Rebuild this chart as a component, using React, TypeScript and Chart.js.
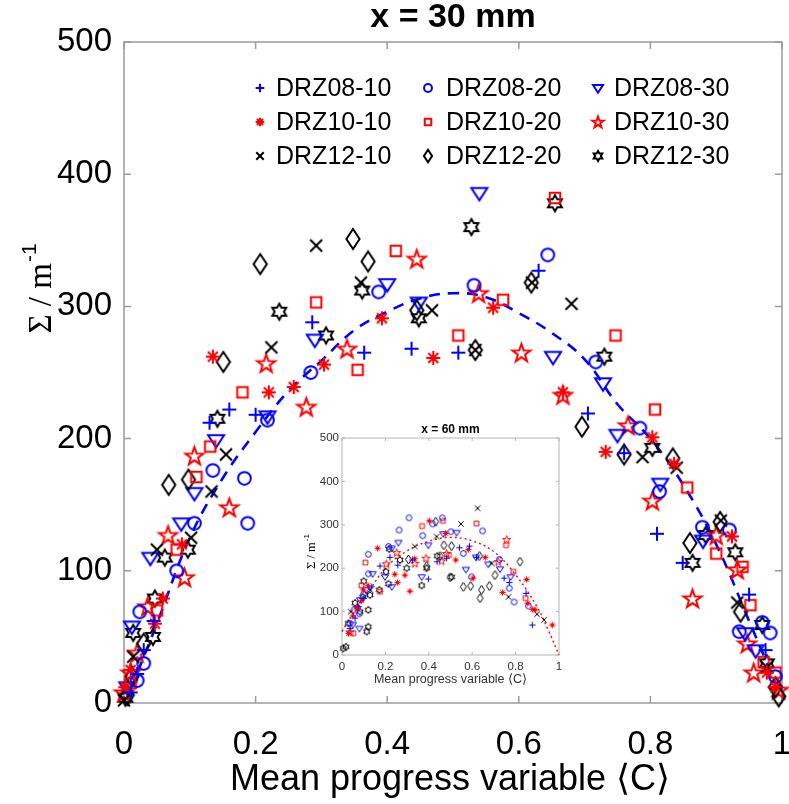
import React, { useEffect, useRef } from 'react';
import { Chart, registerables } from 'chart.js';
Chart.register(...registerables);

const BLUE = '#0000ff';
const RED = '#ff0000';
const BLACK = '#000000';

// ---------- main chart (x = 30 mm) ----------
const mainXTicks = [0, 0.2, 0.4, 0.6, 0.8, 1];
const mainYTicks = [0, 100, 200, 300, 400, 500];

const m0810C = [0.01, 0.02, 0.03, 0.045, 0.13, 0.16, 0.2, 0.286, 0.365, 0.437, 0.508, 0.63, 0.705, 0.76, 0.81, 0.849, 0.95, 0.975];
const m0810S = [8, 22, 40, 62, 212, 222, 218, 288, 265, 268, 265, 327, 219, 189, 128, 106, 82, 40];
const m0820C = [0.02, 0.024, 0.03, 0.08, 0.107, 0.135, 0.183, 0.188, 0.218, 0.284, 0.387, 0.532, 0.644, 0.717, 0.784, 0.814, 0.879, 0.92, 0.935, 0.97, 0.982, 0.99];
const m0820S = [17, 69, 30, 100, 136, 176, 170, 136, 214, 250, 311, 316, 339, 258, 208, 160, 133, 131, 54, 61, 53, 20];
const m0830C = [0.005, 0.012, 0.04, 0.087, 0.107, 0.14, 0.218, 0.29, 0.4, 0.448, 0.54, 0.652, 0.728, 0.75, 0.815, 0.88, 0.944, 0.96];
const m0830S = [12, 58, 110, 136, 159, 199, 217, 275, 317, 303, 386, 262, 242, 203, 166, 123, 53, 40];
const m1010C = [0.002, 0.01, 0.047, 0.059, 0.088, 0.135, 0.22, 0.258, 0.304, 0.392, 0.47, 0.561, 0.667, 0.732, 0.803, 0.836, 0.924, 0.977, 0.99];
const m1010S = [12, 25, 60, 79, 120, 262, 235, 239, 256, 291, 261, 299, 235, 190, 201, 181, 126, 23, 12];
const m1020C = [0.01, 0.05, 0.08, 0.11, 0.131, 0.18, 0.292, 0.355, 0.413, 0.508, 0.576, 0.655, 0.747, 0.807, 0.856, 0.9, 0.94, 0.952, 0.972, 0.99];
const m1020S = [15, 70, 116, 171, 194, 235, 303, 252, 342, 278, 305, 382, 278, 222, 163, 113, 103, 74, 31, 23];
const m1030C = [0.0, 0.01, 0.02, 0.036, 0.067, 0.092, 0.107, 0.16, 0.216, 0.277, 0.339, 0.445, 0.539, 0.604, 0.667, 0.766, 0.803, 0.864, 0.9, 0.932, 0.947, 0.957, 0.995];
const m1030S = [8, 23, 38, 73, 127, 95, 187, 148, 257, 224, 268, 336, 310, 265, 233, 210, 153, 79, 127, 101, 45, 23, 10];
const m1210C = [0.0, 0.014, 0.05, 0.102, 0.133, 0.155, 0.224, 0.292, 0.36, 0.468, 0.534, 0.62, 0.68, 0.788, 0.84, 0.907, 0.932, 0.977];
const m1210S = [2, 35, 116, 125, 160, 188, 269, 346, 318, 297, 267, 318, 302, 186, 178, 138, 76, 27];
const m1220C = [0.005, 0.012, 0.03, 0.068, 0.098, 0.151, 0.207, 0.348, 0.371, 0.445, 0.534, 0.619, 0.696, 0.76, 0.834, 0.86, 0.906, 0.937, 0.99, 0.995];
const m1220S = [6, 20, 45, 165, 169, 258, 332, 351, 334, 297, 267, 318, 209, 188, 185, 121, 137, 69, 12, 5];
const m1230C = [0.002, 0.014, 0.044, 0.047, 0.062, 0.097, 0.142, 0.236, 0.307, 0.362, 0.448, 0.528, 0.655, 0.73, 0.803, 0.864, 0.884, 0.929, 0.97, 0.977];
const m1230S = [4, 53, 50, 79, 110, 116, 215, 296, 278, 312, 291, 360, 378, 262, 193, 106, 127, 114, 59, 30];

const mainFitC = [0.01, 0.05, 0.1, 0.15, 0.2, 0.25, 0.3, 0.35, 0.4, 0.45, 0.5, 0.55, 0.6, 0.65, 0.7, 0.75, 0.8, 0.85, 0.9, 0.95, 0.99];
const mainFitS = [10, 60, 125, 170, 205, 236, 259, 282, 296, 306, 310, 307, 295, 280, 260, 226, 200, 165, 120, 62, 15];

// ---------- inset chart (x = 60 mm) ----------
const insetXTicks = [0, 0.2, 0.4, 0.6, 0.8, 1];
const insetYTicks = [0, 100, 200, 300, 400, 500];

const i0810C = [0.037, 0.075, 0.137, 0.175, 0.221, 0.257, 0.324, 0.398, 0.438, 0.482, 0.541, 0.587, 0.62, 0.747, 0.771, 0.848, 0.877, 0.06, 0.1];
const i0810S = [61, 111, 157, 205, 225, 207, 219, 175, 215, 223, 247, 251, 225, 177, 167, 142, 69, 85, 130];
const i0820C = [0.037, 0.055, 0.121, 0.121, 0.214, 0.263, 0.309, 0.372, 0.418, 0.462, 0.502, 0.559, 0.597, 0.648, 0.725, 0.771, 0.793, 0.859, 0.08, 0.1];
const i0820S = [73, 104, 232, 187, 250, 288, 316, 275, 302, 316, 284, 234, 180, 286, 220, 154, 122, 113, 95, 140];
const i0830C = [0.08, 0.083, 0.141, 0.198, 0.229, 0.229, 0.26, 0.367, 0.398, 0.467, 0.528, 0.571, 0.617, 0.674, 0.728, 0.777, 0.05, 0.11];
const i0830S = [61, 127, 187, 180, 246, 157, 259, 180, 253, 279, 282, 197, 225, 209, 198, 180, 70, 150];
const i1010C = [0.03, 0.071, 0.098, 0.164, 0.243, 0.256, 0.29, 0.313, 0.335, 0.402, 0.478, 0.524, 0.582, 0.604, 0.66, 0.74, 0.851, 0.856, 0.879, 0.89, 0.969, 0.05, 0.09, 0.12];
const i1010S = [50, 107, 150, 246, 186, 167, 184, 147, 222, 309, 280, 219, 243, 177, 225, 144, 174, 119, 105, 104, 69, 90, 125, 160];
const i1020C = [0.052, 0.108, 0.175, 0.369, 0.465, 0.493, 0.62, 0.756, 0.79, 0.846, 0.09];
const i1020S = [50, 213, 146, 297, 309, 230, 303, 253, 192, 131, 160];
const i1030C = [0.037, 0.204, 0.252, 0.336, 0.387, 0.459, 0.482, 0.72, 0.759, 0.07];
const i1030S = [53, 210, 236, 211, 223, 217, 234, 215, 266, 110];
const i1210C = [0.335, 0.436, 0.548, 0.625, 0.69, 0.767, 0.899, 0.931, 0.04, 0.13];
const i1210S = [250, 273, 302, 338, 211, 134, 94, 81, 100, 150];
const i1220C = [0.306, 0.39, 0.432, 0.452, 0.47, 0.498, 0.505, 0.559, 0.593, 0.633, 0.636, 0.643, 0.679, 0.705, 0.82];
const i1220S = [220, 205, 307, 228, 253, 179, 251, 157, 159, 228, 131, 150, 159, 184, 215];
const i1230C = [0.006, 0.018, 0.029, 0.083, 0.095, 0.114, 0.121, 0.121, 0.129, 0.172, 0.203, 0.214, 0.218, 0.267, 0.298, 0.367, 0.39, 0.439, 0.505, 0.06, 0.1];
const i1230S = [15, 19, 73, 100, 134, 54, 65, 104, 138, 150, 192, 164, 244, 219, 200, 160, 200, 228, 180, 120, 170];

const insetFitC = [0, 0.05, 0.1, 0.2, 0.3, 0.4, 0.5, 0.6, 0.7, 0.8, 0.9, 0.95, 1.0];
const insetFitS = [54, 95, 128, 200, 240, 262, 271, 263, 238, 185, 110, 58, 0];

type Shape = 'plus' | 'circle' | 'triDown' | 'asterisk' | 'square' | 'pentagram' | 'cross' | 'diamond' | 'hexagram';

const BASE: Record<Shape, number> = {
  plus: 14, circle: 15, triDown: 16, asterisk: 14, square: 14, pentagram: 19, cross: 12, diamond: 20, hexagram: 16,
};

function traceShape(ctx: CanvasRenderingContext2D, shape: Shape, cx: number, cy: number, size: number) {
  const r = size / 2;
  ctx.beginPath();
  switch (shape) {
    case 'plus':
      ctx.moveTo(cx - r, cy); ctx.lineTo(cx + r, cy);
      ctx.moveTo(cx, cy - r); ctx.lineTo(cx, cy + r);
      break;
    case 'cross':
      ctx.moveTo(cx - r, cy - r); ctx.lineTo(cx + r, cy + r);
      ctx.moveTo(cx + r, cy - r); ctx.lineTo(cx - r, cy + r);
      break;
    case 'asterisk':
      for (let k = 0; k < 4; k++) {
        const a = (k * Math.PI) / 4;
        ctx.moveTo(cx - r * Math.cos(a), cy - r * Math.sin(a));
        ctx.lineTo(cx + r * Math.cos(a), cy + r * Math.sin(a));
      }
      break;
    case 'circle':
      ctx.arc(cx, cy, r * 0.85, 0, Math.PI * 2);
      break;
    case 'square':
      ctx.rect(cx - r * 0.75, cy - r * 0.75, r * 1.5, r * 1.5);
      break;
    case 'triDown':
      ctx.moveTo(cx - r, cy - r * 0.6);
      ctx.lineTo(cx + r, cy - r * 0.6);
      ctx.lineTo(cx, cy + r * 0.95);
      ctx.closePath();
      break;
    case 'diamond':
      ctx.moveTo(cx, cy - r);
      ctx.lineTo(cx + r * 0.66, cy);
      ctx.lineTo(cx, cy + r);
      ctx.lineTo(cx - r * 0.66, cy);
      ctx.closePath();
      break;
    case 'pentagram':
      for (let k = 0; k < 10; k++) {
        const a = -Math.PI / 2 + (k * Math.PI) / 5;
        const rr = k % 2 === 0 ? r : r * 0.4;
        const px = cx + rr * Math.cos(a), py = cy + rr * Math.sin(a) + r * 0.08;
        if (k === 0) ctx.moveTo(px, py); else ctx.lineTo(px, py);
      }
      ctx.closePath();
      break;
    case 'hexagram':
      for (let k = 0; k < 12; k++) {
        const a = -Math.PI / 2 + (k * Math.PI) / 6;
        const rr = k % 2 === 0 ? r : r * 0.577;
        const px = cx + rr * Math.cos(a), py = cy + rr * Math.sin(a);
        if (k === 0) ctx.moveTo(px, py); else ctx.lineTo(px, py);
      }
      ctx.closePath();
      break;
  }
}

function makeMarker(shape: Shape, color: string, scale: number, lw: number): HTMLCanvasElement {
  const size = BASE[shape] * scale;
  const pad = Math.ceil(lw) + 2;
  const dim = Math.ceil(size + 2 * pad);
  const c = document.createElement('canvas');
  c.width = dim; c.height = dim;
  const ctx = c.getContext('2d')!;
  ctx.strokeStyle = color;
  ctx.lineWidth = lw;
  ctx.lineJoin = 'miter';
  traceShape(ctx, shape, dim / 2, dim / 2, size);
  ctx.stroke();
  return c;
}

interface Series { label: string; color: string; shape: Shape; C: number[]; S: number[]; iC: number[]; iS: number[]; }

const SERIES: Series[] = [
  { label: 'DRZ08-10', color: BLUE, shape: 'plus', C: m0810C, S: m0810S, iC: i0810C, iS: i0810S },
  { label: 'DRZ10-10', color: RED, shape: 'asterisk', C: m1010C, S: m1010S, iC: i1010C, iS: i1010S },
  { label: 'DRZ12-10', color: BLACK, shape: 'cross', C: m1210C, S: m1210S, iC: i1210C, iS: i1210S },
  { label: 'DRZ08-20', color: BLUE, shape: 'circle', C: m0820C, S: m0820S, iC: i0820C, iS: i0820S },
  { label: 'DRZ10-20', color: RED, shape: 'square', C: m1020C, S: m1020S, iC: i1020C, iS: i1020S },
  { label: 'DRZ12-20', color: BLACK, shape: 'diamond', C: m1220C, S: m1220S, iC: i1220C, iS: i1220S },
  { label: 'DRZ08-30', color: BLUE, shape: 'triDown', C: m0830C, S: m0830S, iC: i0830C, iS: i0830S },
  { label: 'DRZ10-30', color: RED, shape: 'pentagram', C: m1030C, S: m1030S, iC: i1030C, iS: i1030S },
  { label: 'DRZ12-30', color: BLACK, shape: 'hexagram', C: m1230C, S: m1230S, iC: i1230C, iS: i1230S },
];

const zip = (cs: number[], ss: number[]) => cs.map((c, i) => ({ x: c, y: ss[i] }));

function boxPlugin(id: string, color: string, lw: number, tickLen: number, xt: number[], yt: number[]) {
  return {
    id,
    beforeDatasetsDraw(chart: any) {
      const { ctx, chartArea: a, scales } = chart;
      ctx.save();
      ctx.strokeStyle = color;
      ctx.lineWidth = lw;
      ctx.strokeRect(a.left, a.top, a.right - a.left, a.bottom - a.top);
      ctx.beginPath();
      for (const v of xt) {
        const x = scales.x.getPixelForValue(v);
        ctx.moveTo(x, a.bottom); ctx.lineTo(x, a.bottom - tickLen);
        ctx.moveTo(x, a.top); ctx.lineTo(x, a.top + tickLen);
      }
      for (const v of yt) {
        const y = scales.y.getPixelForValue(v);
        ctx.moveTo(a.left, y); ctx.lineTo(a.left + tickLen, y);
        ctx.moveTo(a.right, y); ctx.lineTo(a.right - tickLen, y);
      }
      ctx.stroke();
      ctx.restore();
    },
  };
}

function drawYTitle(ctx: CanvasRenderingContext2D, cx: number, cy: number, fs: number, supFs: number, supShift: number) {
  ctx.save();
  ctx.translate(cx, cy);
  ctx.rotate(-Math.PI / 2);
  ctx.fillStyle = '#000';
  ctx.textBaseline = 'middle';
  ctx.textAlign = 'left';
  const main = 'Σ / m';
  const sup = '-1';
  ctx.font = `${fs}px "Liberation Serif", "Times New Roman", serif`;
  const w1 = ctx.measureText(main).width;
  ctx.font = `${supFs}px "Liberation Sans", Arial, sans-serif`;
  const w2 = ctx.measureText(sup).width;
  const start = -(w1 + w2) / 2;
  ctx.font = `${fs}px "Liberation Serif", "Times New Roman", serif`;
  ctx.fillText(main, start, 0);
  ctx.font = `${supFs}px "Liberation Sans", Arial, sans-serif`;
  ctx.fillText(sup, start + w1 + 1, -supShift);
  ctx.restore();
}

const SANS = '"Liberation Sans", Arial, sans-serif';

const noPadX = (h: number) => (sc: any) => { sc.height = h; sc.paddingLeft = 0; sc.paddingRight = 0; };
const noPadY = (w: number) => (sc: any) => { sc.width = w; sc.paddingTop = 0; sc.paddingBottom = 0; };

function MainChart() {
  const ref = useRef<HTMLCanvasElement>(null);
  useEffect(() => {
    const canvas = ref.current!;
    const datasets: any[] = SERIES.map((s) => ({
      label: s.label,
      data: zip(s.C, s.S),
      pointStyle: makeMarker(s.shape, s.color, 1, 2),
      pointRadius: 6,
      borderColor: s.color,
      backgroundColor: 'transparent',
      showLine: false,
      clip: false,
    }));
    datasets.push({
      label: 'fit',
      data: zip(mainFitC, mainFitS),
      showLine: true,
      borderColor: BLUE,
      borderWidth: 2.6,
      borderDash: [11, 8],
      pointRadius: 0,
      tension: 0.4,
      fill: false,
      clip: false,
    });

    const labelsPlugin = {
      id: 'mainText',
      afterDraw(chart: any) {
        const { ctx, chartArea: a } = chart;
        const cx = (a.left + a.right) / 2;
        ctx.save();
        ctx.fillStyle = '#000';
        ctx.textAlign = 'center';
        ctx.textBaseline = 'middle';
        ctx.font = `bold 34px ${SANS}`;
        ctx.fillText('x = 30 mm', cx, 18);
        ctx.textBaseline = 'alphabetic';
        ctx.font = `36px ${SANS}`;
        ctx.fillText('Mean progress variable \u27E8C\u27E9', cx - 3, 790);
        ctx.restore();
        drawYTitle(ctx, 42, 289, 33, 21, 12);
        // legend
        const colX = [260, 428, 598];
        const txtX = [276, 446, 614];
        const rowY = [88, 122, 156];
        ctx.save();
        ctx.font = `25px ${SANS}`;
        ctx.fillStyle = '#000';
        ctx.textAlign = 'left';
        ctx.textBaseline = 'middle';
        SERIES.forEach((s, i) => {
          const col = Math.floor(i / 3), row = i % 3;
          ctx.strokeStyle = s.color;
          ctx.lineWidth = 2;
          traceShape(ctx, s.shape, colX[col], rowY[row], BASE[s.shape] * 0.62);
          ctx.stroke();
          ctx.fillText(s.label, txtX[col], rowY[row] + 1);
        });
        ctx.restore();
      },
    };

    const chart = new Chart(canvas, {
      type: 'scatter',
      data: { datasets },
      options: {
        responsive: false,
        animation: false,
        events: [],
        layout: { padding: { top: 42, right: 4, left: 0, bottom: 0 } },
        plugins: { legend: { display: false }, tooltip: { enabled: false }, title: { display: false } },
        scales: {
          x: {
            type: 'linear', min: 0, max: 1,
            grid: { display: false, drawTicks: false },
            border: { display: false },
            afterBuildTicks: (sc: any) => { sc.ticks = mainXTicks.map((v) => ({ value: v })); },
            afterFit: noPadX(101),
            ticks: { color: '#000', padding: 22, font: { size: 33, family: SANS }, maxRotation: 0, callback: (v: any) => String(v) },
          },
          y: {
            type: 'linear', min: 0, max: 500,
            grid: { display: false, drawTicks: false },
            border: { display: false },
            afterBuildTicks: (sc: any) => { sc.ticks = mainYTicks.map((v) => ({ value: v })); },
            afterFit: noPadY(124),
            ticks: { color: '#000', padding: 12, font: { size: 33, family: SANS }, callback: (v: any) => String(v) },
          },
        },
      },
      plugins: [boxPlugin('mainBox', '#9b9b9b', 1.5, 7, mainXTicks, mainYTicks), labelsPlugin],
    });
    return () => chart.destroy();
  }, []);
  return <canvas ref={ref} width={789} height={804} style={{ position: 'absolute', left: 0, top: 0 }} />;
}

function InsetChart() {
  const ref = useRef<HTMLCanvasElement>(null);
  useEffect(() => {
    const canvas = ref.current!;
    const datasets: any[] = SERIES.map((s) => ({
      label: s.label,
      data: zip(s.iC, s.iS),
      pointStyle: makeMarker(s.shape, s.color, 0.45, 1),
      pointRadius: 3,
      borderColor: s.color,
      backgroundColor: 'transparent',
      showLine: false,
      clip: false,
    }));
    datasets.push({
      label: 'fit',
      data: zip(insetFitC, insetFitS),
      showLine: true,
      borderColor: RED,
      borderWidth: 1.4,
      borderDash: [2, 3],
      pointRadius: 0,
      tension: 0.4,
      fill: false,
      clip: false,
    });
    const textPlugin = {
      id: 'insetText',
      afterDraw(chart: any) {
        const { ctx, chartArea: a } = chart;
        const cx = (a.left + a.right) / 2;
        ctx.save();
        ctx.fillStyle = '#000';
        ctx.textAlign = 'center';
        ctx.textBaseline = 'middle';
        ctx.font = `bold 12px ${SANS}`;
        ctx.fillText('x = 60 mm', cx, 15);
        ctx.fillStyle = '#333';
        ctx.textBaseline = 'alphabetic';
        ctx.font = `12.5px ${SANS}`;
        ctx.fillText('Mean progress variable \u27E8C\u27E9', cx, 268);
        ctx.restore();
        drawYTitle(ctx, 22, 137, 12.5, 8, 5);
      },
    };
    const chart = new Chart(canvas, {
      type: 'scatter',
      data: { datasets },
      options: {
        responsive: false,
        animation: false,
        events: [],
        layout: { padding: { top: 23, right: 21, left: 0, bottom: 0 } },
        plugins: { legend: { display: false }, tooltip: { enabled: false }, title: { display: false } },
        scales: {
          x: {
            type: 'linear', min: 0, max: 1,
            grid: { display: false, drawTicks: false },
            border: { display: false },
            afterBuildTicks: (sc: any) => { sc.ticks = insetXTicks.map((v) => ({ value: v })); },
            afterFit: noPadX(50),
            ticks: { color: '#333', padding: 5, font: { size: 11.5, family: SANS }, maxRotation: 0, callback: (v: any) => String(v) },
          },
          y: {
            type: 'linear', min: 0, max: 500,
            grid: { display: false, drawTicks: false },
            border: { display: false },
            afterBuildTicks: (sc: any) => { sc.ticks = insetYTicks.map((v) => ({ value: v })); },
            afterFit: noPadY(52),
            ticks: { color: '#333', padding: 3, font: { size: 11.5, family: SANS }, callback: (v: any) => String(v) },
          },
        },
      },
      plugins: [boxPlugin('insetBox', '#b5b5b5', 1, 3, insetXTicks, insetYTicks), textPlugin],
    });
    return () => chart.destroy();
  }, []);
  return <canvas ref={ref} width={290} height={290} style={{ position: 'absolute', left: 290, top: 415 }} />;
}

export default function App() {
  return (
    <div style={{ position: 'absolute', left: 0, top: 0, width: 789, height: 804, background: '#fff', overflow: 'hidden' }}>
      <MainChart />
      <InsetChart />
    </div>
  );
}
